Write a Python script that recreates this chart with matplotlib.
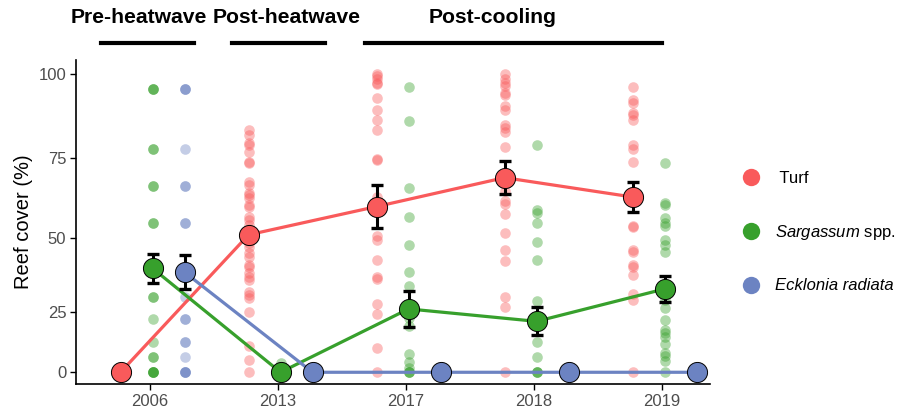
import numpy as np
import matplotlib
matplotlib.use("Agg")
import matplotlib.pyplot as plt
from matplotlib.lines import Line2D

plt.rcParams['font.family'] = ['Liberation Sans', 'DejaVu Sans']
plt.rcParams['mathtext.fontset'] = 'custom'
plt.rcParams['mathtext.it'] = 'Liberation Sans:italic'
plt.rcParams['mathtext.rm'] = 'Liberation Sans'

years = ["2006", "2013", "2017", "2018", "2019"]
groups = ["Turf", "Sargassum", "Ecklonia"]
colors = {"Turf": "#F95A5B", "Sargassum": "#37A02C", "Ecklonia": "#6C83C2"}
offsets = {"Turf": -0.23, "Sargassum": 0.02, "Ecklonia": 0.27}

# mean cover and standard error per year
turf_mean = [0, 51, 60, 69, 63]
turf_se = [0, 1.5, 6.8, 5.0, 4.8]
sarg_mean = [40, 0, 26, 21.5, 33]
sarg_se = [4.8, 0, 6.4, 5.2, 4.4]
eck_mean = [38.7, 0, 0, 0, 0]
eck_se = [5.7, 0, 0, 0, 0]

# site-level observations (% cover)
turf_obs = {
    "2006": [0, 0, 0, 0, 0, 0],
    "2013": [83.4, 81.9, 79.5, 78.9, 76.8, 73.7, 73.4, 67.6, 66.6, 64.4, 63.5, 62.6,
             60.4, 59.8, 56.7, 55.7, 54.1, 52.6, 48.3, 47.0, 45.0, 43.8, 41.1, 40.4,
             38.4, 37.0, 36.0, 31.9, 30.8, 29.8, 24.8, 11.9, 6.1, 0],
    "2017": [100, 99.5, 98.5, 97.4, 97.0, 93.0, 89.4, 86.5, 83.4, 74.8, 74.3, 63.1,
             50.5, 49.3, 42.8, 37.1, 36.5, 27.8, 24.3, 11.2, 0],
    "2018": [100, 98.5, 97.4, 96.5, 94.5, 94.0, 90.6, 89.4, 85.0, 84.0, 83.0, 78.3,
             65.0, 61.9, 60.9, 57.6, 51.5, 46.0, 42.5, 30.2, 26.8, 0],
    "2019": [96.1, 92.4, 91.4, 88.6, 88.1, 86.5, 79.0, 77.9, 73.7, 53.8, 53.6, 46.0,
             45.5, 41.1, 40.6, 37.8, 31.3, 29.1, 0],
}
sarg_obs = {
    "2006": [95.6, 95.6, 95.6, 77.7, 77.7, 66.3, 66.3, 54.7, 54.7, 30.1, 30.1,
             22.3, 13.6, 7.4, 7.4, 0, 0, 0, 0, 0],
    "2013": [5.0, 0, 0, 0, 0],
    "2017": [96.1, 86.2, 65.8, 56.8, 47.7, 38.9, 34.0, 22.6, 19.9, 8.8, 5.4, 2.4,
             0, 0, 0],
    "2018": [79.0, 58.9, 57.9, 54.7, 48.8, 42.8, 28.7, 13.6, 7.5, 0, 0, 0],
    "2019": [73.5, 61.1, 60.6, 56.4, 54.8, 53.8, 49.3, 47.7, 45.3, 29.1, 26.3,
             21.9, 18.2, 17.0, 15.7, 12.7, 9.3, 8.0, 5.6, 0],
}
eck_obs = {
    "2006": [95.6, 95.6, 95.6, 77.7, 66.3, 66.3, 54.7, 54.7, 30.1, 22.3, 22.3,
             13.6, 13.6, 7.4, 0, 0, 0, 0],
    "2013": [0, 0, 0],
    "2017": [0, 0, 0],
    "2018": [0, 0, 0],
    "2019": [0, 0, 0],
}

means = {"Turf": turf_mean, "Sargassum": sarg_mean, "Ecklonia": eck_mean}
ses = {"Turf": turf_se, "Sargassum": sarg_se, "Ecklonia": eck_se}
obs = {"Turf": turf_obs, "Sargassum": sarg_obs, "Ecklonia": eck_obs}

periods = ["Pre-heatwave", "Post-heatwave", "Post-cooling"]

fig = plt.figure(figsize=(9.11, 4.11), dpi=100)
ax = fig.add_axes([76 / 911, 27 / 411, 634 / 911, 324 / 411])

pw = 1.15
ax.set_yscale('function', functions=(lambda v: np.sign(v) * np.abs(v) ** pw,
                                     lambda v: np.sign(v) * np.abs(v) ** (1 / pw)))

xs = np.arange(len(years))
for g in groups:
    for i, yr in enumerate(years):
        vals = obs[g][yr]
        ax.scatter(np.full(len(vals), xs[i] + offsets[g]), vals, s=58,
                   color=colors[g], alpha=0.4, linewidths=0, zorder=2)

for g in groups:
    ax.plot(xs + offsets[g], means[g], color=colors[g], lw=2.3, zorder=3,
            solid_capstyle='butt')
for g in groups:
    m = np.array(means[g])
    e = np.array(ses[g])
    keep = e > 0
    ax.errorbar((xs + offsets[g])[keep], m[keep], yerr=e[keep], fmt='none',
                ecolor='black', elinewidth=2.2, capsize=4, capthick=2.4, zorder=4)
for g in groups:
    ax.scatter(xs + offsets[g], means[g], s=210, color=colors[g],
               edgecolors='black', linewidths=0.7, zorder=5)

ax.set_xticks(xs)
ax.set_xticklabels(years)
ax.set_xlim(-0.578, 4.375)
ax.set_ylim(-6.0, 104.1)
ax.set_yticks([0, 25, 50, 75, 100])
ax.set_ylabel("Reef cover (%)", fontsize=14.5, labelpad=4)
for s in ["top", "right"]:
    ax.spines[s].set_visible(False)
for s in ["left", "bottom"]:
    ax.spines[s].set_linewidth(1.2)
ax.tick_params(axis='both', colors='black', labelcolor='#4D4D4D', labelsize=12,
               length=4, width=1.0, pad=3)

# period headers above the panel
tr = ax.get_xaxis_transform()
text_x = [-0.09, 1.07, 2.68]
line_span = [(-0.38, 0.34), (0.64, 1.37), (1.68, 4.0)]
for lab, tx, (x0, x1) in zip(periods, text_x, line_span):
    ax.text(tx, 1.13, lab, transform=tr, ha='center', va='center',
            fontsize=15.2, fontweight='bold', clip_on=False)
    ax.add_line(Line2D([x0, x1], [1.053, 1.053], transform=tr, color='black',
                       lw=3, clip_on=False))

handles = [Line2D([], [], ls='none', marker='o', markersize=12.5,
                  markerfacecolor=colors[g], markeredgewidth=0) for g in groups]
labels = [" Turf", r"$\it{Sargassum}$ spp.", "Ecklonia radiata"]
leg = fig.legend(handles, labels, loc='center left', bbox_to_anchor=(0.79, 0.435),
                 frameon=False, fontsize=12, labelspacing=2.2, handletextpad=0.4)
leg.get_texts()[2].set_fontstyle('italic')

fig.savefig("out.png", dpi=100)
